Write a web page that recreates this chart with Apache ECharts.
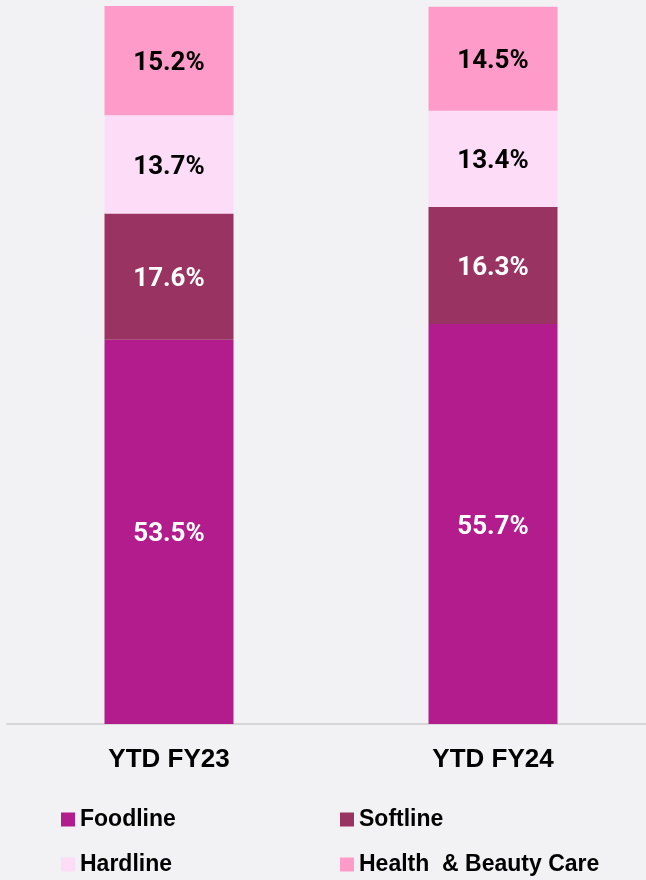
<!DOCTYPE html>
<html>
<head>
<meta charset="utf-8">
<title>Sales mix</title>
<script src="https://cdn.jsdelivr.net/npm/echarts@6/dist/echarts.min.js"></script>
<style>
  html, body { margin: 0; padding: 0; background: #f2f2f4; }
</style>
</head>
<body>
<div id="main" style="width: 646px; height: 880px;"></div>
<script type="text/javascript">
// data
var categories = ['YTD FY23', 'YTD FY24'];
var foodline = [53.5, 55.7];
var softline = [17.6, 16.3];
var hardline = [13.7, 13.4];
var healthBeauty = [15.2, 14.5];

var myChart = echarts.init(document.getElementById('main'));

var labelFont = 'Roboto, "Liberation Sans", Arial, sans-serif';
var textFont = '"Liberation Sans", Arial, sans-serif';

function makeSeries(name, values, color, labelColor) {
  return {
    name: name,
    type: 'bar',
    stack: 'mix',
    barWidth: 129,
    data: values,
    itemStyle: { color: color },
    label: {
      show: true,
      position: 'inside',
      offset: [0, 3],
      color: labelColor,
      fontFamily: labelFont,
      fontWeight: 'bold',
      fontSize: 26,
      formatter: function (p) { return p.value.toFixed(1) + '%'; }
    },
    emphasis: { disabled: true }
  };
}

var legendText = {
  color: '#000',
  fontFamily: textFont,
  fontWeight: 'bold',
  fontSize: 23
};

function makeLegend(left, names) {
  return {
    orient: 'vertical',
    left: left,
    top: 803,
    height: 77,
    itemWidth: 14,
    itemHeight: 14,
    itemGap: 22,
    icon: 'rect',
    textStyle: legendText,
    data: names
  };
}

option = {
  backgroundColor: '#f2f2f4',
  animation: false,
  grid: { left: 7, right: -9, top: 6, bottom: 156, outerBoundsMode: 'none' },
  legend: [
    makeLegend(56, ['Foodline', 'Hardline']),
    makeLegend(335, ['Softline', 'Health  & Beauty Care'])
  ],
  xAxis: {
    type: 'category',
    data: categories,
    axisLine: { lineStyle: { color: '#d6d6d6', width: 2 } },
    axisTick: { show: false },
    axisLabel: {
      color: '#000',
      fontFamily: textFont,
      fontWeight: 'bold',
      fontSize: 26,
      margin: 23
    }
  },
  yAxis: {
    type: 'value',
    min: 0,
    max: 100,
    show: false,
    splitLine: { show: false }
  },
  series: [
    makeSeries('Foodline', foodline, '#b31c8c', '#ffffff'),
    makeSeries('Softline', softline, '#993361', '#ffffff'),
    makeSeries('Hardline', hardline, '#fddcf8', '#000000'),
    makeSeries('Health  & Beauty Care', healthBeauty, '#fe9bc8', '#000000')
  ]
};

myChart.setOption(option);
</script>
</body>
</html>
